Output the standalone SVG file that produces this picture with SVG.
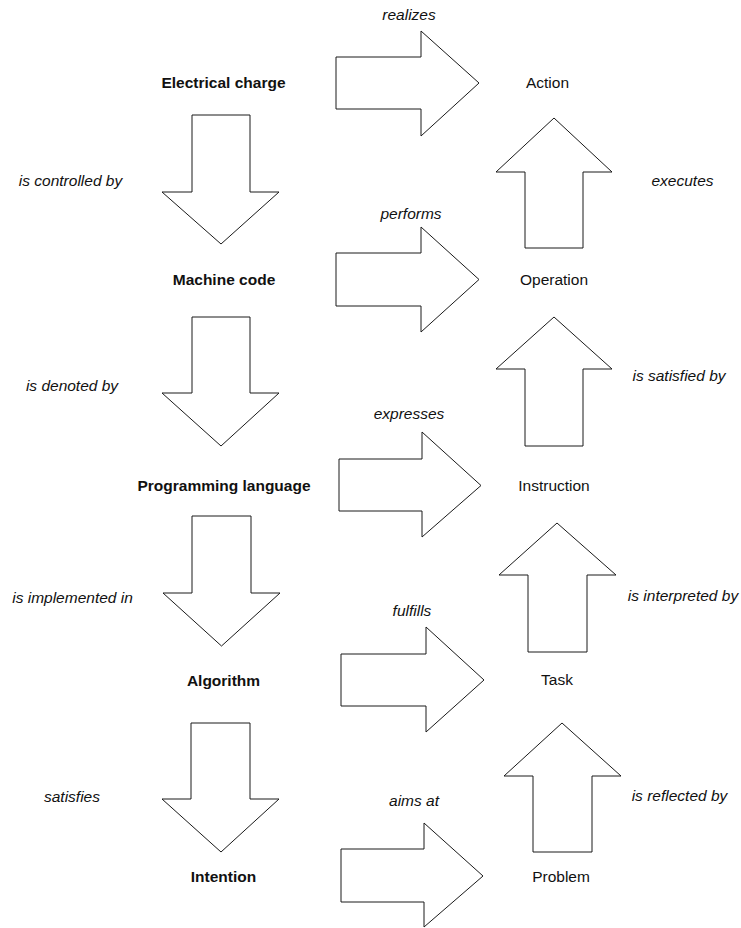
<svg xmlns="http://www.w3.org/2000/svg" width="741" height="928" viewBox="0 0 741 928">
  <style>
    .arrow { fill: #ffffff; stroke: #1a1a1a; stroke-width: 1; stroke-linejoin: miter; }
    .node { font-family: "Liberation Sans", Arial, Helvetica, sans-serif; font-size: 15.5px; fill: #111111; text-anchor: middle; }
    .node.left { font-weight: bold; }
    .rel { font-family: "Liberation Sans", Arial, Helvetica, sans-serif; font-size: 15.5px; font-style: italic; fill: #111111; text-anchor: middle; }
  </style>
  <rect width="741" height="928" fill="#ffffff"/>

  <!-- block arrows between the concepts -->
  <g id="connectors">
    <!-- right-pointing: left column to right column -->
    <polygon class="arrow" points="336,57 421,57 421,31 479,83 421,136 421,109 336,109"/>
    <polygon class="arrow" points="336,253 421,253 421,227 479,279.5 421,332 421,306 336,306"/>
    <polygon class="arrow" points="339,459 422,459 422,432 481,485.5 422,537 422,511 339,511"/>
    <polygon class="arrow" points="341,654 426,654 426,627 484,680 426,732 426,706 341,706"/>
    <polygon class="arrow" points="341,849 424,849 424,823 483,876 424,927 424,902 341,902"/>

    <!-- downward: left column chain -->
    <polygon class="arrow" points="192,115 250,115 250,192 279,192 221,244 162,192 192,192"/>
    <polygon class="arrow" points="192,317 250,317 250,393 279,393 221,446 162,393 192,393"/>
    <polygon class="arrow" points="192,516 251,516 251,593 280,593 221.5,646 163,593 192,593"/>
    <polygon class="arrow" points="191,723 250,723 250,799 279,799 221,852 162,799 191,799"/>

    <!-- upward: right column chain -->
    <polygon class="arrow" points="525,248 525,172 496,172 554,118 612,172 583,172 583,248"/>
    <polygon class="arrow" points="525,446 525,369 496,369 554,317 612,369 583,369 583,446"/>
    <polygon class="arrow" points="528,652 528,575 499,575 557,523 616,575 587,575 587,652"/>
    <polygon class="arrow" points="533,852 533,776 504,776 562,723 621,776 592,776 592,852"/>
  </g>

  <!-- relation labels -->
  <g id="relations">
    <text class="rel" x="409" y="20">realizes</text>
    <text class="rel" x="70.5" y="186">is controlled by</text>
    <text class="rel" x="682.5" y="186">executes</text>
    <text class="rel" x="411" y="219">performs</text>
    <text class="rel" x="72" y="391">is denoted by</text>
    <text class="rel" x="679" y="381">is satisfied by</text>
    <text class="rel" x="409" y="419">expresses</text>
    <text class="rel" x="72.5" y="603">is implemented in</text>
    <text class="rel" x="683" y="601">is interpreted by</text>
    <text class="rel" x="412" y="616">fulfills</text>
    <text class="rel" x="72" y="802">satisfies</text>
    <text class="rel" x="679.5" y="801">is reflected by</text>
    <text class="rel" x="414" y="806">aims at</text>
  </g>

  <!-- left column concepts -->
  <g id="electrical-charge"><text class="node left" x="223.5" y="88">Electrical charge</text></g>
  <g id="machine-code"><text class="node left" x="224" y="285">Machine code</text></g>
  <g id="programming-language"><text class="node left" x="224" y="491">Programming language</text></g>
  <g id="algorithm"><text class="node left" x="223.5" y="686">Algorithm</text></g>
  <g id="intention"><text class="node left" x="223.5" y="882">Intention</text></g>

  <!-- right column concepts -->
  <g id="action"><text class="node" x="547.5" y="88">Action</text></g>
  <g id="operation"><text class="node" x="554" y="285">Operation</text></g>
  <g id="instruction"><text class="node" x="554" y="491">Instruction</text></g>
  <g id="task"><text class="node" x="557" y="685">Task</text></g>
  <g id="problem"><text class="node" x="561" y="882">Problem</text></g>
</svg>
